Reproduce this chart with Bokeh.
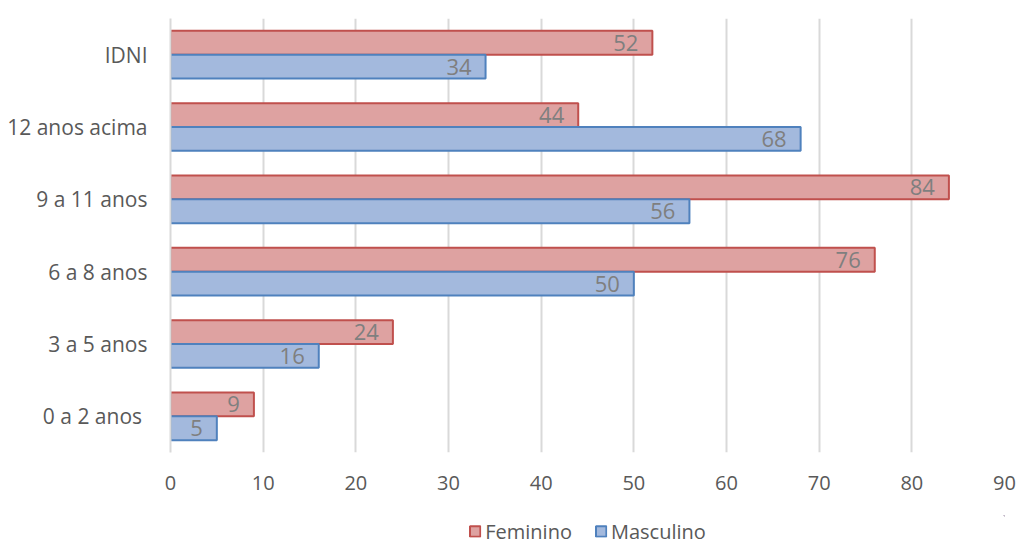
from bokeh.plotting import figure
from bokeh.layouts import column
from bokeh.models import ColumnDataSource, FactorRange, Range1d, LabelSet, Legend, LegendItem, FixedTicker
from bokeh.core.properties import value
from bokeh.transform import dodge
from bokeh.embed import file_html
from bokeh.resources import INLINE

categories = ["0 a 2 anos ", "3 a 5 anos", "6 a 8 anos", "9 a 11 anos", "12 anos acima", "IDNI"]
feminino = [9, 24, 76, 84, 44, 52]
masculino = [5, 16, 50, 56, 68, 34]
series_names = ["Feminino", "Masculino"]
x_ticks = [0, 10, 20, 30, 40, 50, 60, 70, 80, 90]

FONT = "Open Sans"
FEM_FILL, FEM_LINE = "#dea2a1", "#c0504d"
MAS_FILL, MAS_LINE = "#a3b9dd", "#4f81bd"

src = ColumnDataSource(dict(cat=categories, fem=feminino, mas=masculino,
                            fem_t=[str(v) for v in feminino], mas_t=[str(v) for v in masculino]))

p = figure(frame_width=834, frame_height=434, y_range=FactorRange(*categories), x_range=Range1d(0, 90),
           output_backend="svg", toolbar_location=None,
           min_border_left=170, min_border_right=14, min_border_top=18, min_border_bottom=63)
p.outline_line_color = None

p.hbar(y=dodge("cat", 0.165, range=p.y_range), right="fem", left=0, height=0.33, source=src,
       fill_color=FEM_FILL, line_color=FEM_LINE, line_width=2)
p.hbar(y=dodge("cat", -0.165, range=p.y_range), right="mas", left=0, height=0.33, source=src,
       fill_color=MAS_FILL, line_color=MAS_LINE, line_width=2)

for col, off, tcol in (("fem", 0.165, "fem_t"), ("mas", -0.165, "mas_t")):
    lab = LabelSet(x=col, y=dodge("cat", off, range=p.y_range), text=tcol, source=src,
                   text_align="right", text_baseline="middle", x_offset=-14, y_offset=0,
                   text_font=value(FONT), text_font_size="22px", text_color="#7f7f7f")
    p.add_layout(lab)

p.xaxis.ticker = FixedTicker(ticks=x_ticks)
p.xaxis.axis_line_color = None
p.xaxis.major_tick_line_color = None
p.xaxis.minor_tick_line_color = None
p.xaxis.major_label_text_font = FONT
p.xaxis.major_label_text_font_size = "20px"
p.xaxis.major_label_text_color = "#595959"
p.xaxis.major_label_standoff = 17

p.yaxis.axis_line_color = "#d9d9d9"
p.yaxis.axis_line_width = 2
p.yaxis.major_tick_line_color = None
p.yaxis.minor_tick_line_color = None
p.yaxis.major_label_text_font = FONT
p.yaxis.major_label_text_font_size = "21px"
p.yaxis.major_label_text_color = "#595959"
p.yaxis.major_label_standoff = 17

p.xgrid.grid_line_color = "#d9d9d9"
p.xgrid.grid_line_width = 2
p.ygrid.grid_line_color = None

# legend strip below the chart (its swatch renderers sit outside the strip's visible range)
lg = figure(width=1018, height=32, x_range=Range1d(0, 1), y_range=Range1d(0, 1),
            output_backend="svg", toolbar_location=None, x_axis_type=None, y_axis_type=None,
            min_border=0)
lg.outline_line_color = None
lg.xgrid.visible = False
lg.ygrid.visible = False
swatch = ColumnDataSource(dict(y=[5], right=[6]))
l_f = lg.hbar(y="y", right="right", left=5, height=0.5, source=swatch,
              fill_color=FEM_FILL, line_color=FEM_LINE, line_width=2)
l_m = lg.hbar(y="y", right="right", left=5, height=0.5, source=swatch,
              fill_color=MAS_FILL, line_color=MAS_LINE, line_width=2)
legend = Legend(items=[LegendItem(label=series_names[0], renderers=[l_f], index=0),
                       LegendItem(label=series_names[1], renderers=[l_m], index=0)],
                orientation="horizontal", location="center",
                label_text_font=FONT, label_text_font_size="20px", label_text_color="#595959",
                label_height=20, glyph_width=13, glyph_height=13, spacing=22, label_standoff=4,
                border_line_color=None, background_fill_alpha=0, margin=0, padding=2)
lg.add_layout(legend, "center")

layout = column(p, lg, spacing=0)
open("out.html", "w").write(file_html(layout, INLINE))
